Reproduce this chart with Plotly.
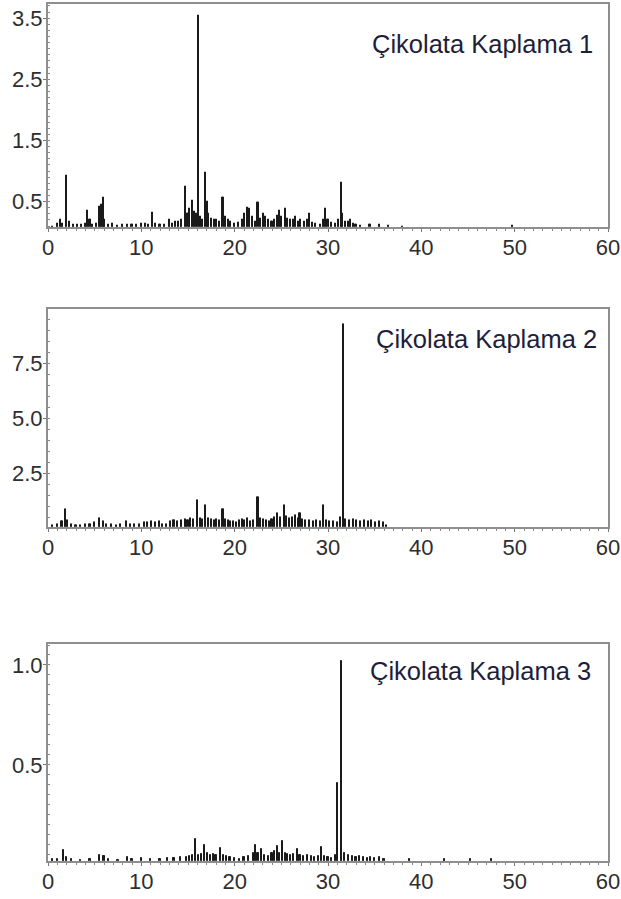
import plotly.graph_objects as go

# ---------------- data (retention time in min, abundance) ----------------
panel_titles = ["Çikolata Kaplama 1", "Çikolata Kaplama 2", "Çikolata Kaplama 3"]
x_ticks = [0, 10, 20, 30, 40, 50, 60]

rt1 = [0.5, 1.0, 1.3, 1.6, 2.0, 2.3, 2.7, 3.2, 3.6, 4.0, 4.2, 4.5, 4.8, 5.2, 5.5, 5.7, 5.9, 6.1,
       6.5, 6.9, 7.4, 8.0, 8.5, 9.0, 9.5, 10.0, 10.4, 10.8, 11.2, 11.5, 12.0, 12.5, 13.0, 13.3,
       13.7, 14.0, 14.3, 14.7, 15.0, 15.2, 15.5, 15.7, 15.9, 16.1, 16.3, 16.6, 16.9, 17.05, 17.2,
       17.5, 17.8, 18.1, 18.4, 18.75, 19.0, 19.3, 19.6, 20.0, 20.4, 20.8, 21.1, 21.4, 21.6, 21.9,
       22.2, 22.5, 22.8, 23.1, 23.3, 23.6, 24.0, 24.3, 24.6, 24.8, 25.0, 25.4, 25.7, 26.0, 26.3,
       26.5, 26.8, 27.1, 27.5, 27.8, 28.0, 28.3, 28.7, 29.2, 29.5, 29.75, 30.0, 30.4, 30.8, 31.1,
       31.4, 31.6, 31.9, 32.2, 32.4, 32.7, 33.0, 33.5, 34.5, 35.5, 36.5, 38.0, 49.8]
ab1 = [0.10, 0.14, 0.20, 0.15, 0.92, 0.18, 0.12, 0.13, 0.12, 0.15, 0.36, 0.20, 0.12, 0.14, 0.42, 0.45, 0.56, 0.20,
       0.13, 0.14, 0.11, 0.13, 0.12, 0.13, 0.12, 0.14, 0.15, 0.13, 0.33, 0.15, 0.13, 0.12, 0.20, 0.15,
       0.18, 0.17, 0.20, 0.74, 0.30, 0.38, 0.52, 0.34, 0.30, 3.55, 0.25, 0.20, 0.97, 0.50, 0.30,
       0.22, 0.20, 0.20, 0.18, 0.57, 0.25, 0.20, 0.18, 0.15, 0.16, 0.20, 0.30, 0.41, 0.38, 0.25,
       0.18, 0.49, 0.22, 0.31, 0.26, 0.20, 0.17, 0.20, 0.28, 0.35, 0.25, 0.39, 0.22, 0.20, 0.20,
       0.25, 0.18, 0.20, 0.17, 0.20, 0.31, 0.16, 0.14, 0.12, 0.20, 0.39, 0.20, 0.16, 0.15, 0.20,
       0.81, 0.30, 0.18, 0.17, 0.20, 0.15, 0.12, 0.11, 0.12, 0.12, 0.11, 0.10, 0.11]

rt2 = [0.5, 1.0, 1.5, 1.87, 2.1, 2.5, 3.0, 3.5, 4.0, 4.5, 5.0, 5.5, 5.9, 6.3, 6.8, 7.3, 7.8, 8.4,
       8.8, 9.3, 9.8, 10.3, 10.7, 11.1, 11.5, 11.9, 12.3, 12.7, 13.1, 13.5, 13.9, 14.3, 14.7, 15.0,
       15.3, 15.6, 16.0, 16.3, 16.6, 16.9, 17.2, 17.5, 17.8, 18.1, 18.4, 18.75, 19.0, 19.3, 19.6,
       19.9, 20.2, 20.5, 20.8, 21.1, 21.4, 21.7, 22.0, 22.5, 22.8, 23.1, 23.4, 23.7, 24.0, 24.3,
       24.6, 24.9, 25.3, 25.6, 25.9, 26.2, 26.5, 26.8, 27.0, 27.3, 27.6, 28.0, 28.4, 28.8, 29.2,
       29.5, 29.8, 30.2, 30.6, 31.0, 31.3, 31.64, 31.9, 32.3, 32.7, 33.1, 33.5, 33.9, 34.3, 34.7,
       35.1, 35.5, 35.9, 36.3]
ab2 = [0.15, 0.20, 0.30, 0.86, 0.35, 0.20, 0.12, 0.15, 0.18, 0.20, 0.25, 0.45, 0.30, 0.20, 0.18, 0.15, 0.20, 0.30,
       0.20, 0.18, 0.20, 0.25, 0.28, 0.30, 0.25, 0.30, 0.20, 0.18, 0.30, 0.35, 0.30, 0.35, 0.40, 0.35,
       0.45, 0.40, 1.29, 0.45, 0.40, 1.06, 0.45, 0.40, 0.38, 0.40, 0.35, 0.86, 0.40, 0.35, 0.30,
       0.30, 0.25, 0.35, 0.40, 0.35, 0.45, 0.30, 0.38, 1.41, 0.45, 0.40, 0.35, 0.30, 0.40, 0.50,
       0.70, 0.50, 1.06, 0.55, 0.45, 0.50, 0.60, 0.45, 0.70, 0.40, 0.35, 0.35, 0.30, 0.35, 0.30,
       1.06, 0.35, 0.30, 0.30, 0.25, 0.50, 9.29, 0.40, 0.35, 0.40, 0.35, 0.30, 0.35, 0.30, 0.35,
       0.25, 0.30, 0.25, 0.15]

rt3 = [0.5, 1.0, 1.65, 2.0, 2.5, 3.5, 4.5, 5.5, 6.0, 6.5, 7.5, 8.5, 9.0, 10.0, 11.0, 12.0, 12.8,
       13.5, 14.2, 14.8, 15.2, 15.5, 15.8, 16.1, 16.4, 16.8, 17.1, 17.4, 17.7, 18.0, 18.5, 18.8,
       19.1, 19.5, 20.0, 20.5, 21.0, 21.5, 22.0, 22.2, 22.5, 22.9, 23.2, 23.6, 24.0, 24.3, 24.6,
       24.85, 25.1, 25.4, 25.7, 26.0, 26.3, 26.7, 27.0, 27.4, 27.8, 28.2, 28.6, 29.0, 29.3, 29.6,
       30.0, 30.4, 30.8, 31.0, 31.43, 31.8, 32.2, 32.6, 33.0, 33.4, 33.8,
       34.2, 34.6, 35.0, 35.5, 36.0, 38.7, 42.5, 45.3, 47.5]
ab3 = [0.030, 0.030, 0.075, 0.040, 0.030, 0.025, 0.030, 0.050, 0.045, 0.030, 0.025, 0.040, 0.030, 0.035, 0.030, 0.030, 0.035,
       0.035, 0.040, 0.040, 0.045, 0.050, 0.130, 0.050, 0.055, 0.100, 0.060, 0.050, 0.055, 0.050, 0.085, 0.050,
       0.045, 0.040, 0.035, 0.030, 0.040, 0.045, 0.060, 0.100, 0.060, 0.080, 0.050, 0.045, 0.060, 0.070, 0.095,
       0.060, 0.120, 0.060, 0.055, 0.050, 0.055, 0.080, 0.050, 0.045, 0.050, 0.045, 0.040, 0.045, 0.090, 0.045,
       0.040, 0.035, 0.050, 0.410, 1.020, 0.060, 0.050, 0.045, 0.040, 0.045, 0.040,
       0.035, 0.040, 0.035, 0.040, 0.030, 0.030, 0.030, 0.030, 0.030]

y_ticks = [[0.5, 1.5, 2.5, 3.5], [2.5, 5.0, 7.5], [0.5, 1.0]]
y_tick_text = [["0.5", "1.5", "2.5", "3.5"], ["2.5", "5.0", "7.5"], ["0.5", "1.0"]]

# ---------------- layout geometry (pixels) ----------------
W, H = 621, 899
PX0, PX1 = 48, 608
panel_px = [(3.5, 226.7), (309.3, 526.7), (644.0, 860.7)]
y_ranges = [[0.09, 3.74], [0.07, 9.95], [0.021, 1.105]]
y_minor = [0.1, 0.5, 0.05]
title_px = [(595, 44), (599, 339), (593, 671)]

FONT = "Liberation Sans, Arial, sans-serif"
LINE = "#1a1a1a"

fig = go.Figure()
series = [(rt1, ab1), (rt2, ab2), (rt3, ab3)]
for i, (rt, ab) in enumerate(series):
    sfx = "" if i == 0 else str(i + 1)
    fig.add_trace(go.Bar(
        x=rt, y=ab, width=0.12,
        marker=dict(color=LINE, line=dict(color=LINE, width=1.0)),
        xaxis="x" + sfx, yaxis="y" + sfx, showlegend=False,
    ))
    top, bot = panel_px[i]
    axis_common = dict(
        showline=True, linecolor="#8e8e8e", linewidth=2, mirror=True,
        showgrid=False, zeroline=False, automargin=False,
        ticks="outside", ticklen=3, tickwidth=1, tickcolor="#777",
        tickfont=dict(family=FONT, size=22, color="#2e2e2e"),
    )
    fig.layout["xaxis" + sfx] = dict(
        axis_common, domain=[PX0 / W, PX1 / W], range=[0, 60],
        tickvals=x_ticks, anchor="y" + sfx, ticklabelstandoff=-3,
        minor=dict(ticks="outside", ticklen=2, dtick=1, tickcolor="#888"),
    )
    fig.layout["yaxis" + sfx] = dict(
        axis_common, domain=[1 - bot / H, 1 - top / H], range=y_ranges[i],
        tickvals=y_ticks[i], ticktext=y_tick_text[i], anchor="x" + sfx,
        ticklabelstandoff=-4,
        minor=dict(ticks="inside", ticklen=2, dtick=y_minor[i], tick0=0, tickcolor="#888"),
    )
    tx, ty = title_px[i]
    fig.add_annotation(
        text=panel_titles[i], xref="paper", yref="paper",
        x=tx / W, y=1 - ty / H, xanchor="right", yanchor="middle",
        showarrow=False, font=dict(family=FONT, size=25.5, color="#1e1e3a"),
    )

fig.update_layout(
    width=W, height=H, margin=dict(l=0, r=0, t=0, b=0),
    paper_bgcolor="white", plot_bgcolor="white", template="none",
    bargap=0,
)

fig.write_html("out.html")
